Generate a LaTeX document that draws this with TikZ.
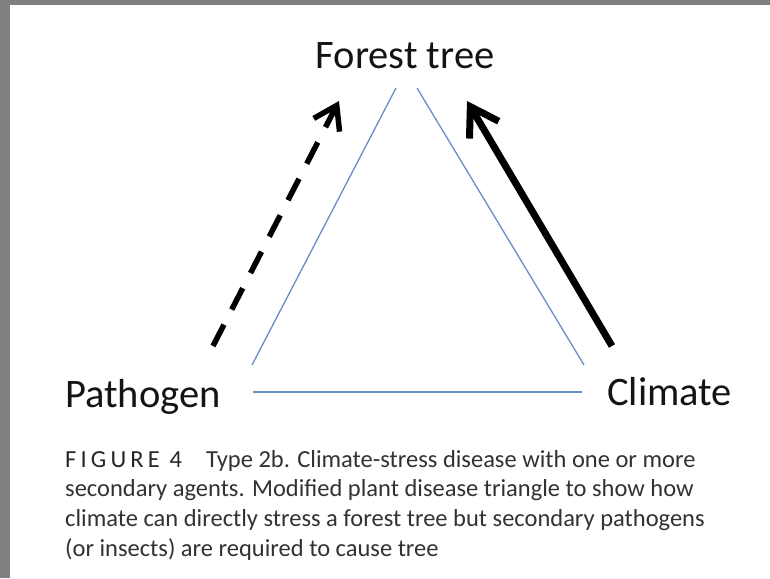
\documentclass[tikz,border=0pt]{standalone}
\usepackage{fontspec}
\setmainfont{Carlito}
\usetikzlibrary{arrows.meta}
\definecolor{triblue}{RGB}{104,142,196}
\definecolor{framegray}{RGB}{128,128,128}
\definecolor{capgray}{RGB}{50,50,50}
\tikzset{x=1pt, y=-1pt,
corner label/.style={ % Sets the look of the three labels
font=\fontsize{40.5}{48}\selectfont,
text=black!92,
inner sep=0pt},
tri side/.style={ % Thin sides of the disease triangle
draw=triblue,
line width=1.3pt},
strong effect/.style={ % Direct stress
draw,
line width=7pt,
-{Straight Barb[length=27pt, width=34pt]}},
weak effect/.style={ % Secondary agents
draw,
line width=5.5pt,
dash pattern=on 24pt off 17pt,
-{Straight Barb[length=22pt, width=29pt]}}}

\begin{document}
\begin{tikzpicture}
\fill[framegray] (0,0) rectangle (770,578);
\fill[white] (10,5) rectangle (770,578);
\useasboundingbox (0,0) rectangle (770,578);

\node[corner label, anchor=base] (forest) at (405,68) {Forest tree};
\node[corner label, anchor=base west] (pathogen) at (65,407) {Pathogen};
\node[corner label, anchor=base west] (climate) at (607,405) {Climate};

% ends of the triangle sides
\coordinate (ft-l) at (396,88);
\coordinate (ft-r) at (417,88);
\coordinate (pa-t) at (252,365);
\coordinate (pa-r) at (253,392);
\coordinate (cl-t) at (584,365);
\coordinate (cl-l) at (582,392);

\draw[tri side] (pa-t) -- (ft-l);
\draw[tri side] (cl-t) -- (ft-r);
\draw[tri side] (pa-r) -- (cl-l);

% arrows
\coordinate (pa-tail) at (213,346);
\coordinate (pa-tip) at (339,101);
\coordinate (cl-tail) at (612,346);
\coordinate (cl-tip) at (467,101);
\draw[weak effect] (pa-tail) -- (pa-tip);
\draw[strong effect] (cl-tail) -- (cl-tip);

% caption, placed by its last line
\node[anchor=base west, inner sep=0pt, align=left, text=capgray,
font=\fontsize{24.5}{29.6}\selectfont] (caption) at (65,556)
{{\addfontfeature{LetterSpace=17}\color{black!85}FIGURE 4}\hspace{24pt}Type 2b. Climate-stress disease with one or more\\
secondary agents. Modified plant disease triangle to show how\\
climate can directly stress a forest tree but secondary pathogens\\
(or insects) are required to cause tree};
\end{tikzpicture}
\end{document}
